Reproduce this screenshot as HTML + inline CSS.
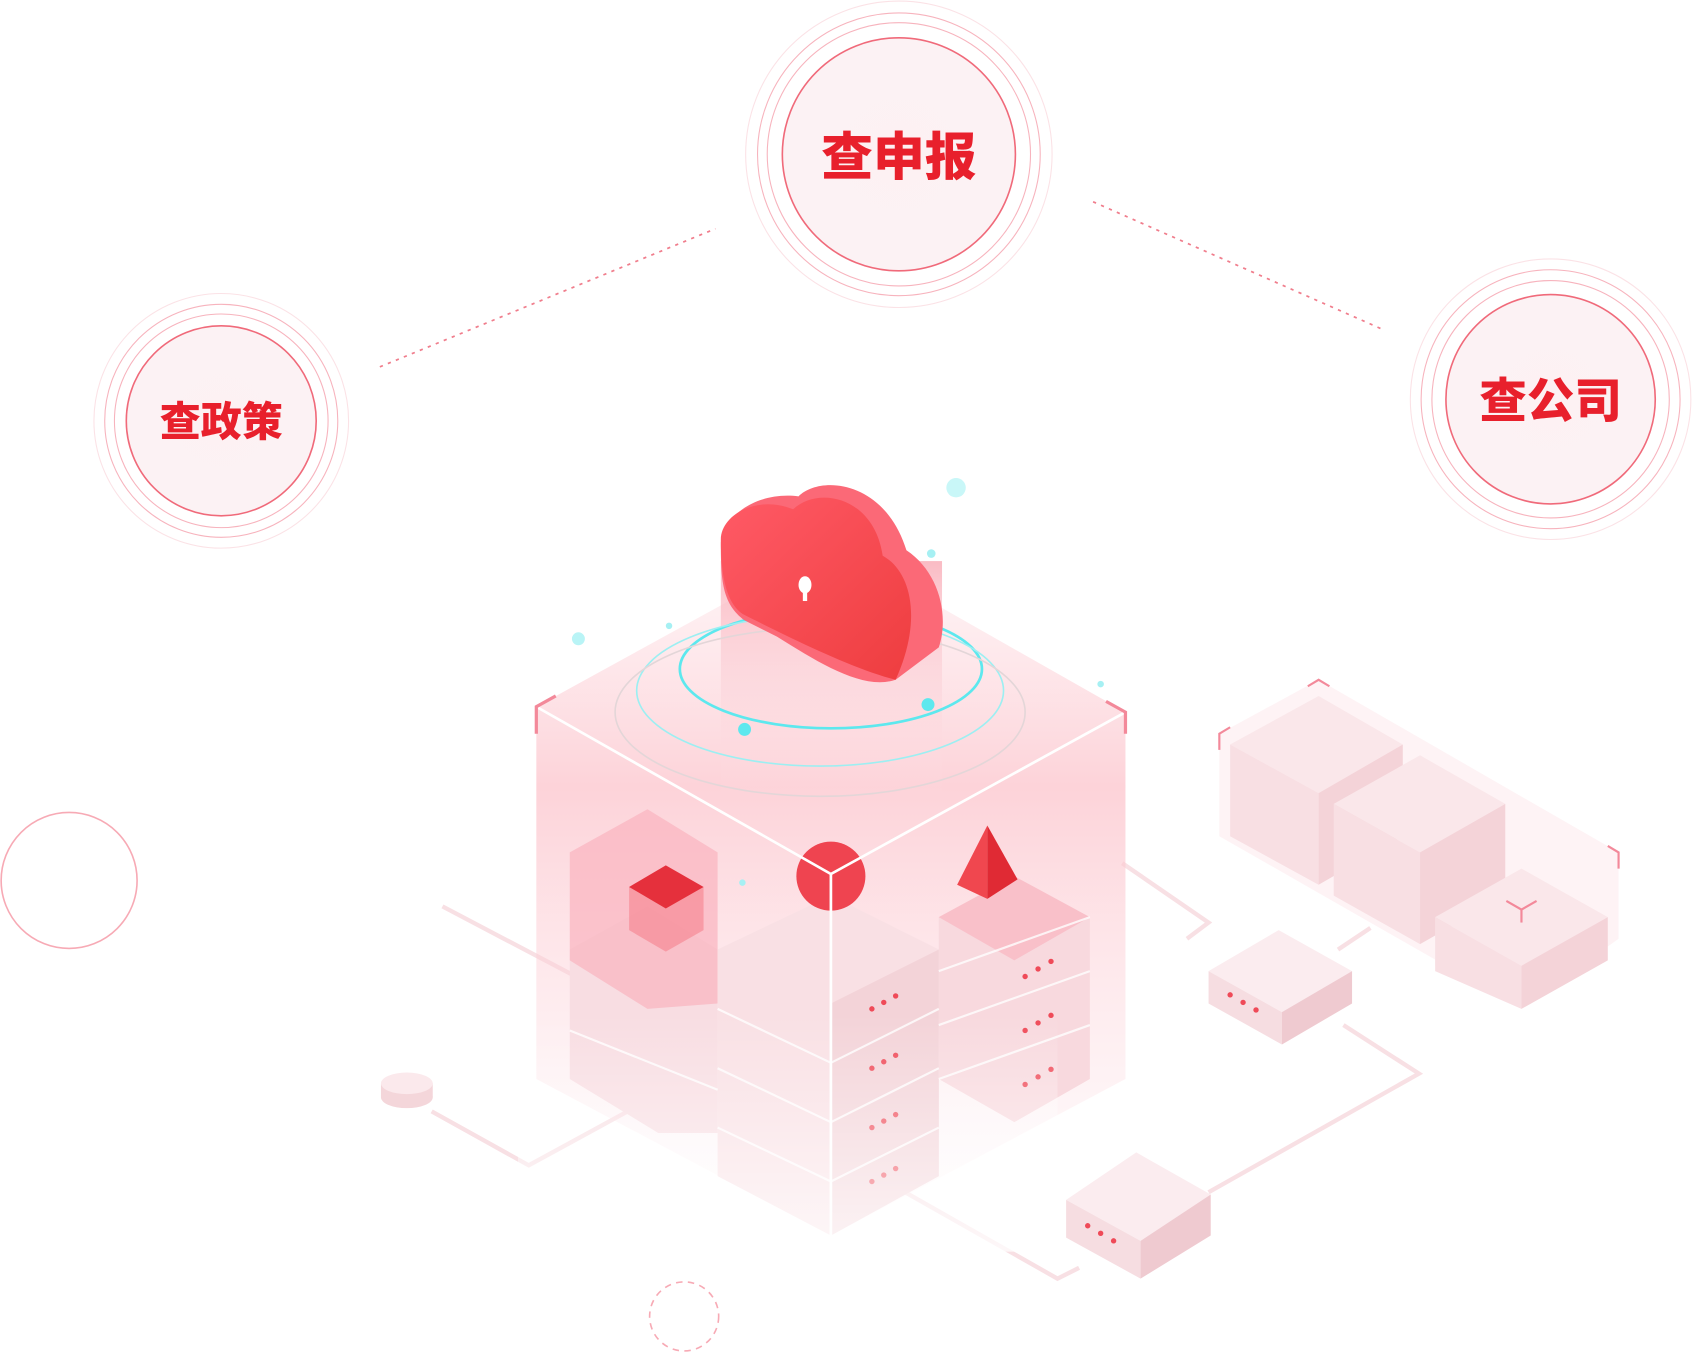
<!DOCTYPE html>
<html><head><meta charset="utf-8"><style>
html,body{margin:0;padding:0;background:#fff;}
svg{display:block}
text{font-family:"Liberation Sans","Noto Sans CJK SC",sans-serif;font-weight:900;fill:#e8202c;text-anchor:middle;}
</style></head><body>
<svg width="1692" height="1352" viewBox="0 0 1568 1253" xmlns="http://www.w3.org/2000/svg">
<defs>
<linearGradient id="cube" x1="0" y1="0" x2="0" y2="1">
<stop offset="0" stop-color="#fde6ea" stop-opacity="0.4"/>
<stop offset="0.35" stop-color="#fcc4cc" stop-opacity="0.75"/>
<stop offset="1" stop-color="#fde3e8" stop-opacity="0.1"/>
</linearGradient>
<linearGradient id="col" x1="0" y1="0" x2="0" y2="1">
<stop offset="0" stop-color="#f9aab5"/><stop offset="1" stop-color="#fde6ea" stop-opacity="0"/>
</linearGradient>
<linearGradient id="cl" x1="0" y1="0" x2="1" y2="1">
<stop offset="0" stop-color="#ff5a66"/><stop offset="1" stop-color="#ee3d3f"/>
</linearGradient>
<linearGradient id="fade" x1="0" y1="0" x2="0" y2="1">
<stop offset="0" stop-color="#fff" stop-opacity="0"/><stop offset="1" stop-color="#fff" stop-opacity="0.75"/>
</linearGradient>
<radialGradient id="cf"><stop offset="0" stop-color="#fdf1f3"/><stop offset="1" stop-color="#fcf2f4"/></radialGradient>
</defs>

<g stroke="#f07d8c" stroke-width="1.6" stroke-dasharray="3 5" fill="none">
<line x1="352" y1="340" x2="663" y2="212"/>
<line x1="1013" y1="187" x2="1283" y2="306"/>
</g>

<g fill="none" stroke="#f7b3bd">
<circle cx="833" cy="143" r="142" stroke="#fbe2e6"/>
<circle cx="833" cy="143" r="131" stroke-width="1"/>
<circle cx="833" cy="143" r="122" stroke-width="1"/>
<circle cx="833" cy="143" r="108" fill="url(#cf)" stroke="#f06a7a" stroke-width="1.5"/>
<circle cx="205" cy="390" r="118" stroke="#fbe2e6"/>
<circle cx="205" cy="390" r="108"/>
<circle cx="205" cy="390" r="99"/>
<circle cx="205" cy="390" r="88" fill="url(#cf)" stroke="#f06a7a" stroke-width="1.5"/>
<circle cx="1437" cy="370" r="130" stroke="#fbe2e6"/>
<circle cx="1437" cy="370" r="120"/>
<circle cx="1437" cy="370" r="110"/>
<circle cx="1437" cy="370" r="97" fill="url(#cf)" stroke="#f06a7a" stroke-width="1.5"/>
<circle cx="64" cy="816" r="63" stroke="#f7aab5" stroke-width="1.5"/>
<circle cx="634" cy="1220" r="32" stroke="#f7aab5" stroke-width="1.5" stroke-dasharray="6 5"/>
</g>
<text x="833" y="162" font-size="48">查申报</text>
<text x="205" y="404" font-size="38">查政策</text>
<text x="1437" y="387" font-size="44">查公司</text>

<g stroke="#f8e0e4" stroke-width="4" fill="none">
<polyline points="410,840 600,940"/>
<polyline points="400,1030 490,1080 600,1020"/>
<polyline points="1040,800 1120,855 1100,870"/>
<polyline points="1245,950 1315,995 1120,1105"/>
<polyline points="830,1100 980,1185 1000,1175"/>
<polyline points="1240,880 1270,860"/>
</g>
<ellipse cx="377" cy="1017" rx="24" ry="10" fill="#f4d6da"/>
<rect x="353" y="1004" width="48" height="13" fill="#f4d6da"/>
<ellipse cx="377" cy="1004" rx="24" ry="10" fill="#fbe9ec"/>

<g>
<polygon points="1130,680 1222,630 1500,790 1500,870 1410,935 1130,775" fill="#fdeef1" opacity="0.7"/>
<g fill="#fae7ea">
<polygon points="1140,690 1222,645 1300,690 1222,735"/><polygon points="1140,690 1222,735 1222,820 1140,775" fill="#f8dfe3"/><polygon points="1222,735 1300,690 1300,775 1222,820" fill="#f4d3d8"/>
<polygon points="1236,745 1316,700 1395,745 1316,790"/><polygon points="1236,745 1316,790 1316,875 1236,830" fill="#f8dfe3"/><polygon points="1316,790 1395,745 1395,830 1316,875" fill="#f4d3d8"/>
<polygon points="1330,850 1410,805 1490,850 1410,895"/><polygon points="1330,850 1410,895 1410,935 1330,900" fill="#f8dfe3"/><polygon points="1410,895 1490,850 1490,890 1410,935" fill="#f4d3d8"/>
</g>
<g stroke="#f3899a" stroke-width="2" fill="none">
<polyline points="1130,695 1130,680 1140,674"/><polyline points="1212,636 1222,630 1232,636"/><polyline points="1490,784 1500,790 1500,805"/><polyline points="1396,835 1410,843 1424,835"/><line x1="1410" y1="843" x2="1410" y2="855"/>
</g>
</g>

<polygon points="497,655 770,505 1043,660 1043,1000 770,1145 497,1000" fill="url(#cube)"/>
<g>
<polygon points="528,880 600,840 665,880 665,1050 610,1050 528,1000" fill="#f8dde2"/>
<polygon points="528,790 600,750 665,790 665,930 600,935 528,890" fill="#f9b4bf" opacity="0.7"/>
<polygon points="870,850 940,812 1010,850 1010,1000 940,1040 870,1000" fill="#f8d9de"/>
<polygon points="870,850 940,812 1010,850 940,890" fill="#fab5c0" opacity="0.7"/>
<polygon points="665,880 770,830 870,880 870,1090 770,1145 665,1090" fill="#f9e0e4"/>
<polygon points="770,930 870,880 870,1090 770,1145" fill="#f3d3d8"/>
<g fill="#ef4a58">
<circle cx="808" cy="935" r="2.5"/><circle cx="819" cy="929" r="2.5"/><circle cx="830" cy="923" r="2.5"/>
<circle cx="808" cy="990" r="2.5"/><circle cx="819" cy="984" r="2.5"/><circle cx="830" cy="978" r="2.5"/>
<circle cx="808" cy="1045" r="2.5"/><circle cx="819" cy="1039" r="2.5"/><circle cx="830" cy="1033" r="2.5"/>
<circle cx="808" cy="1095" r="2.5"/><circle cx="819" cy="1089" r="2.5"/><circle cx="830" cy="1083" r="2.5"/>
<circle cx="950" cy="905" r="2.5"/><circle cx="962" cy="898" r="2.5"/><circle cx="974" cy="891" r="2.5"/>
<circle cx="950" cy="955" r="2.5"/><circle cx="962" cy="948" r="2.5"/><circle cx="974" cy="941" r="2.5"/>
<circle cx="950" cy="1005" r="2.5"/><circle cx="962" cy="998" r="2.5"/><circle cx="974" cy="991" r="2.5"/>
</g>
<g stroke="#ffffff" stroke-width="2" fill="none" opacity="0.8">
<line x1="770" y1="985" x2="870" y2="935"/><line x1="770" y1="1040" x2="870" y2="990"/><line x1="770" y1="1095" x2="870" y2="1045"/>
<line x1="665" y1="935" x2="770" y2="985"/><line x1="665" y1="990" x2="770" y2="1040"/><line x1="665" y1="1045" x2="770" y2="1095"/>
<line x1="870" y1="900" x2="1010" y2="850"/><line x1="870" y1="950" x2="1010" y2="900"/><line x1="870" y1="1000" x2="1010" y2="950"/>
<line x1="528" y1="955" x2="665" y2="1010"/>
</g>
</g>
<rect x="480" y="940" width="500" height="220" fill="url(#fade)"/>

<g>
<polygon points="1120,900 1185,862 1253,900 1188,938" fill="#fbecef"/>
<polygon points="1120,900 1188,938 1188,968 1120,930" fill="#f6dde1"/>
<polygon points="1188,938 1253,900 1253,930 1188,968" fill="#efcad0"/>
<circle cx="1140" cy="922" r="2.5" fill="#ef4a58"/><circle cx="1152" cy="929" r="2.5" fill="#ef4a58"/><circle cx="1164" cy="936" r="2.5" fill="#ef4a58"/>
<polygon points="988,1112 1053,1068 1122,1107 1057,1150" fill="#fbecef"/>
<polygon points="988,1112 1057,1150 1057,1185 988,1147" fill="#f6dde1"/>
<polygon points="1057,1150 1122,1107 1122,1145 1057,1185" fill="#efcad0"/>
<circle cx="1008" cy="1136" r="2.5" fill="#ef4a58"/><circle cx="1020" cy="1143" r="2.5" fill="#ef4a58"/><circle cx="1032" cy="1150" r="2.5" fill="#ef4a58"/>
</g>

<polygon points="583,822 617,802 652,822 652,862 617,882 583,862" fill="#f78a96" opacity="0.7"/>
<polygon points="583,822 617,802 652,822 617,842" fill="#e5303c"/>
<circle cx="770" cy="812" r="32" fill="#ef4450"/>
<polygon points="915,765 887,820 915,833" fill="#f0474f"/>
<polygon points="915,765 943,815 915,833" fill="#e02a34"/>
<g stroke="#ffffff" stroke-width="2.5" fill="none">
<polyline points="497,655 770,810 1043,660"/><line x1="770" y1="810" x2="770" y2="1145"/>
</g>
<g stroke="#f3899a" stroke-width="3" fill="none">
<polyline points="497,680 497,655 515,645"/><polyline points="1025,650 1043,660 1043,680"/>
</g>
<rect x="668" y="520" width="205" height="220" fill="url(#col)" opacity="0.8"/>
<g fill="none">
<ellipse cx="770" cy="620" rx="140" ry="55" stroke="#5de8ee" stroke-width="2.5"/>
<ellipse cx="760" cy="640" rx="170" ry="70" stroke="#9ceff2" stroke-width="1.5"/>
<ellipse cx="760" cy="660" rx="190" ry="78" stroke="#e3d6d8" stroke-width="1.5"/>
</g>
<path d="M668,505 C668,480 700,455 740,460 C760,440 820,445 840,510 C870,530 880,570 870,600 L830,630 C800,640 760,615 720,590 L690,575 C670,560 668,540 668,505Z" fill="#fb6977"/>
<path d="M668,500 C668,478 700,458 735,472 C758,450 810,460 818,515 C845,530 855,575 830,630 C790,620 730,590 690,570 C672,560 668,530 668,500Z" fill="url(#cl)"/>
<ellipse cx="746" cy="542" rx="6" ry="8" fill="#fff"/><rect x="744" y="545" width="4" height="12" fill="#fff"/>
<circle cx="860" cy="653" r="6" fill="#5de8ee"/><circle cx="690" cy="676" r="6" fill="#5de8ee"/>
<circle cx="886" cy="452" r="9" fill="#c9f7f8"/><circle cx="863" cy="513" r="4" fill="#a6f0f3"/><circle cx="536" cy="592" r="6" fill="#b9f4f6"/><circle cx="1020" cy="634" r="3" fill="#a6f0f3"/><circle cx="620" cy="580" r="3" fill="#a6f0f3"/><circle cx="688" cy="818" r="3" fill="#a6f0f3"/>
</svg>
</body></html>
